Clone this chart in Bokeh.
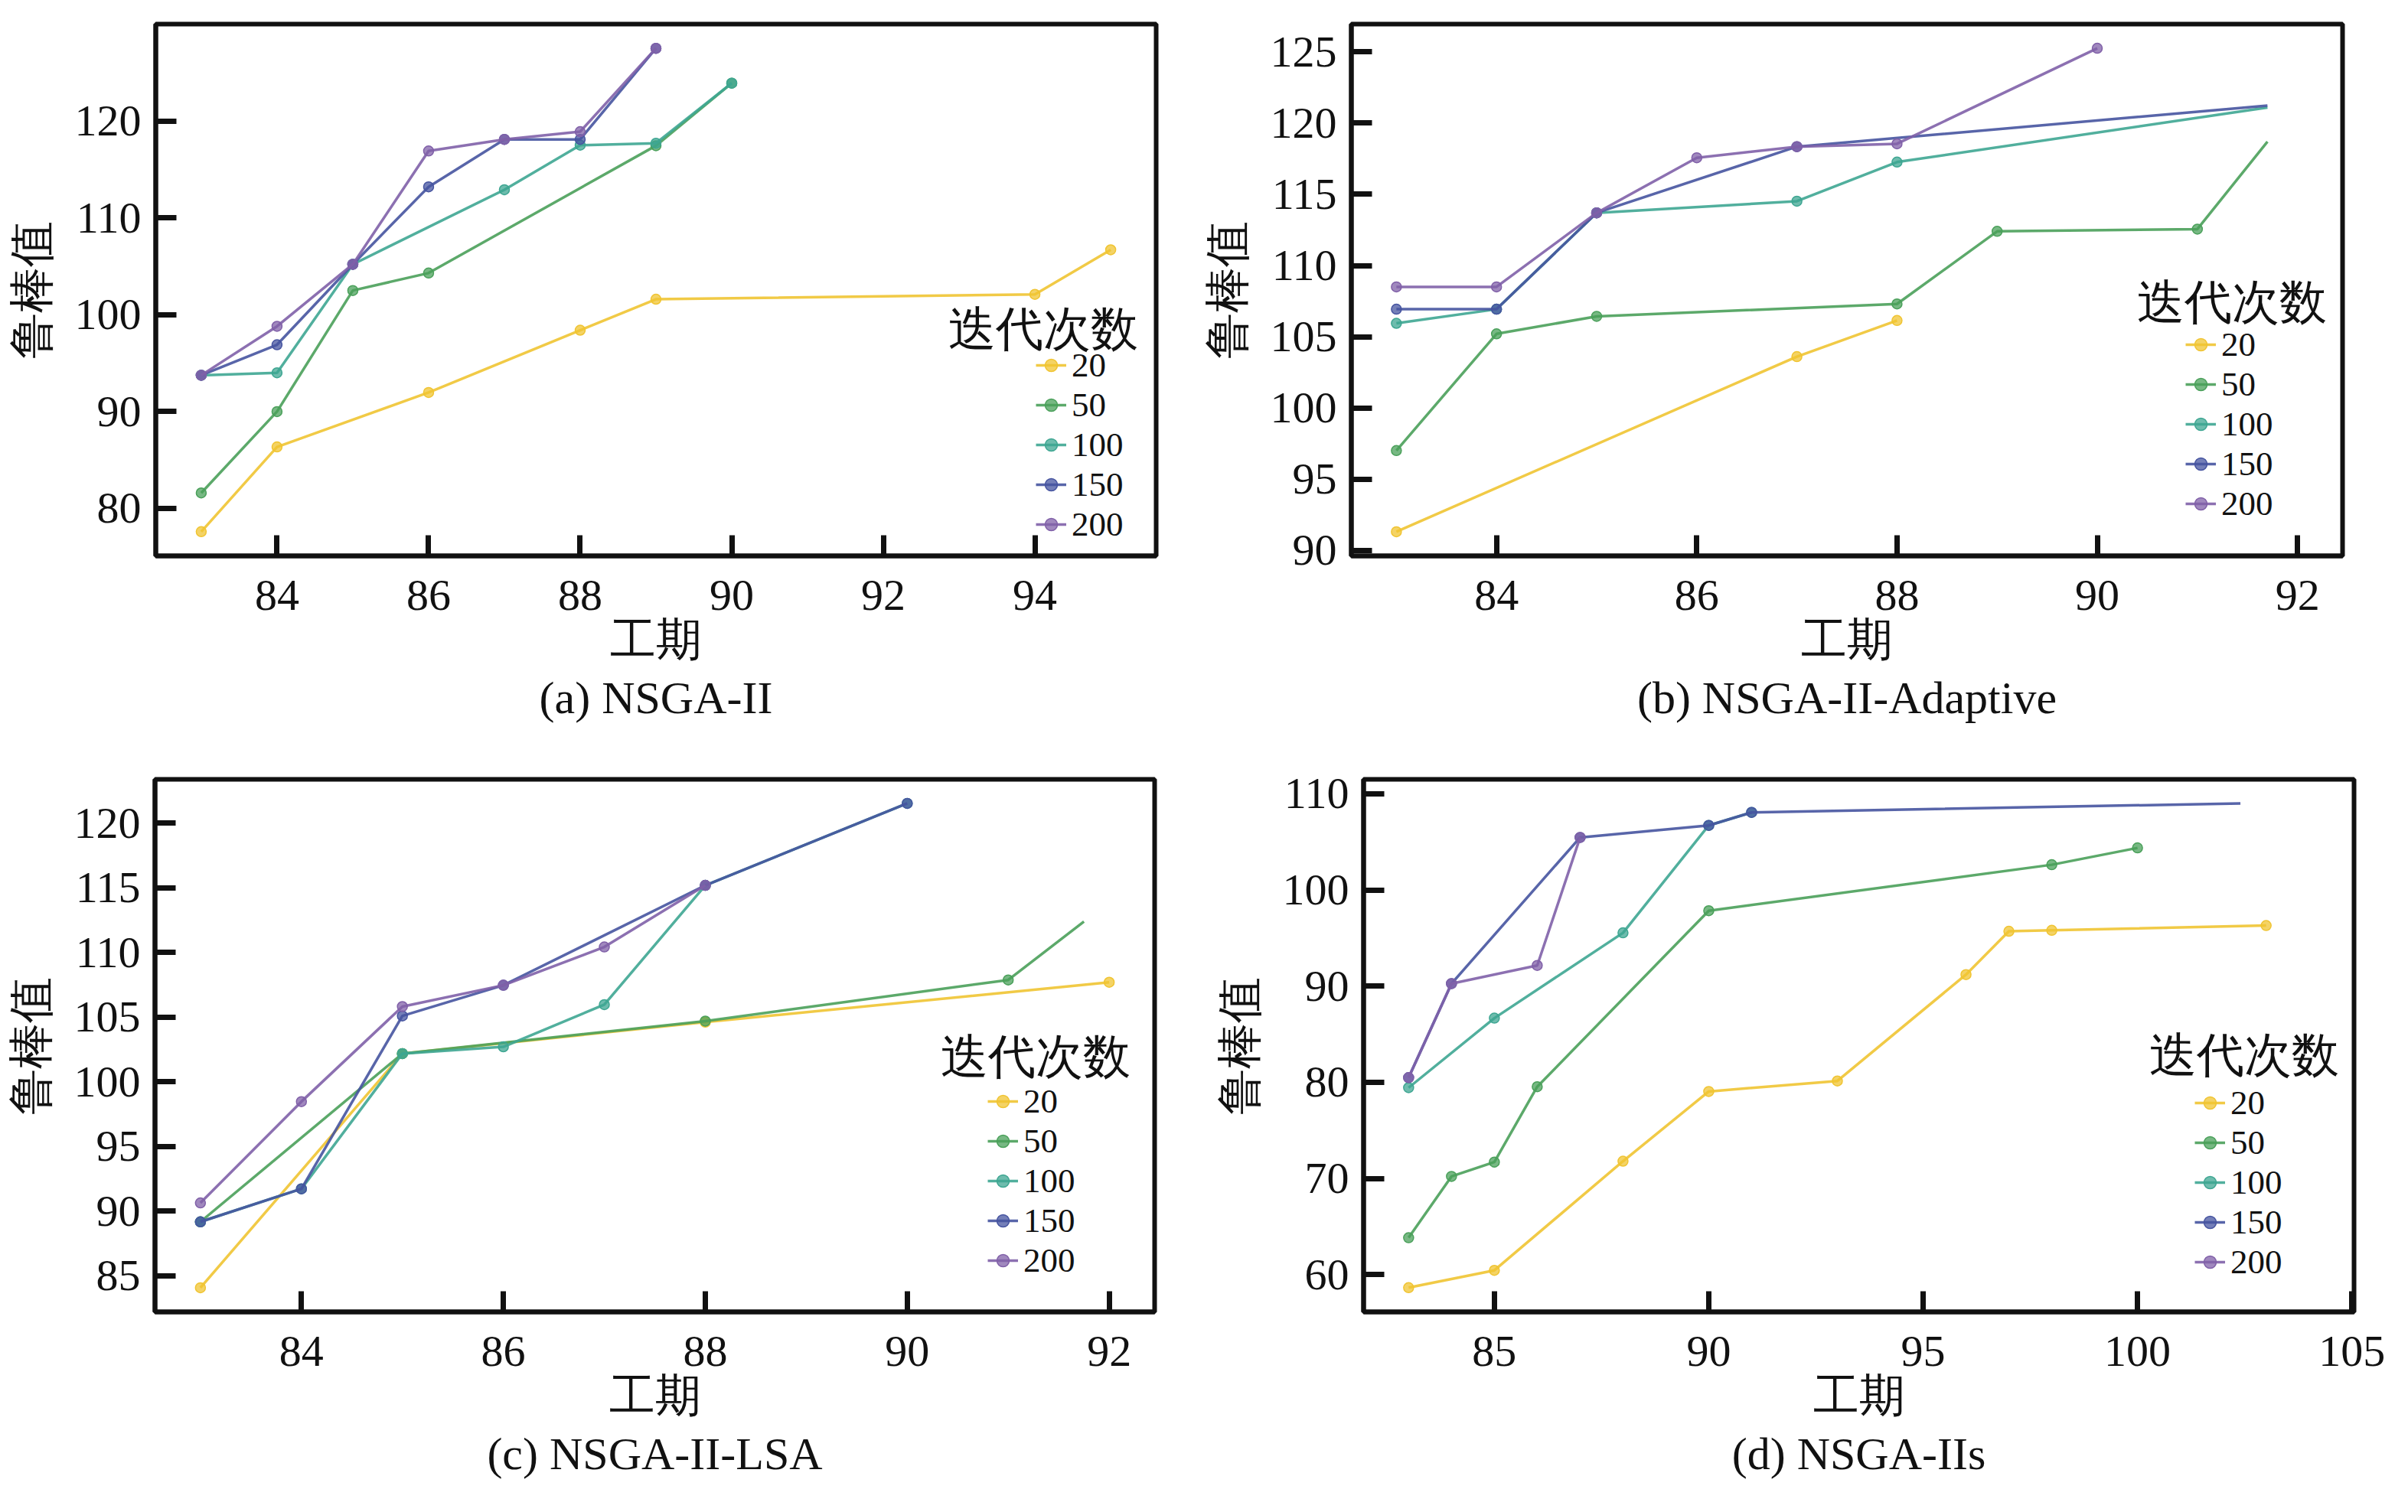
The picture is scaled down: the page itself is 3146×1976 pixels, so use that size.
from bokeh.plotting import figure
from bokeh.models import Range1d, FixedTicker, Legend, LegendItem, Label, Title
from bokeh.layouts import column, row
from bokeh.embed import file_html
from bokeh.resources import INLINE

FONT = "Liberation Serif"
series_names = ["20", "50", "100", "150", "200"]
colors = ["#F0C432", "#4AA05A", "#3EA692", "#4654A0", "#8060A8"]
legend_title = "迭代次数"
x_label = "工期"
y_label = "鲁棒值"

# ---- (a) NSGA-II ----
a20_x = [83, 84, 86, 88, 89, 94, 95]
a20_y = [77.6, 86.35, 91.97, 98.4, 101.6, 102.1, 106.7]
a50_x = [83, 84, 85, 86, 89, 90]
a50_y = [81.6, 90.0, 102.5, 104.3, 117.45, 123.9]
a100_x = [83, 84, 85, 87, 88, 89, 90]
a100_y = [93.75, 94.0, 105.2, 112.9, 117.5, 117.7, 123.9]
a150_x = [83, 84, 85, 86, 87, 88, 89]
a150_y = [93.75, 96.9, 105.2, 113.2, 118.1, 118.1, 127.5]
a200_x = [83, 84, 85, 86, 87, 88, 89]
a200_y = [93.75, 98.8, 105.2, 116.9, 118.1, 118.9, 127.5]

# ---- (b) NSGA-II-Adaptive ----
b20_x = [83, 87, 88]
b20_y = [91.3, 103.6, 106.14]
b50_x = [83, 84, 85, 88, 89, 91]
b50_y = [97.0, 105.2, 106.43, 107.3, 112.4, 112.56]
b50_tail_x = [91.7]
b50_tail_y = [118.7]
b100_x = [83, 84, 85, 87, 88]
b100_y = [105.94, 106.93, 113.7, 114.52, 117.27]
b100_tail_x = [91.7]
b100_tail_y = [121.1]
b150_x = [83, 84, 85, 87]
b150_y = [106.93, 106.93, 113.7, 118.35]
b150_tail_x = [91.7]
b150_tail_y = [121.23]
b200_x = [83, 84, 85, 86, 87, 88, 90]
b200_y = [108.5, 108.5, 113.7, 117.57, 118.35, 118.55, 125.26]

# ---- (c) NSGA-II-LSA ----
c20_x = [83, 85, 88, 92]
c20_y = [84.07, 102.18, 104.62, 107.7]
c50_x = [83, 85, 88, 91]
c50_y = [89.17, 102.18, 104.7, 107.88]
c50_tail_x = [91.75]
c50_tail_y = [112.4]
c100_x = [83, 84, 85, 86, 87, 88, 90]
c100_y = [89.17, 91.72, 102.18, 102.71, 105.97, 115.2, 121.54]
c150_x = [83, 84, 85, 86, 88, 90]
c150_y = [89.17, 91.72, 105.1, 107.47, 115.2, 121.54]
c200_x = [83, 84, 85, 86, 87, 88]
c200_y = [90.63, 98.47, 105.82, 107.47, 110.43, 115.2]

# ---- (d) NSGA-IIs ----
d20_x = [83, 85, 88, 90, 93, 96, 97, 98, 103]
d20_y = [58.65, 60.45, 71.8, 79.05, 80.14, 91.2, 95.7, 95.8, 96.3]
d50_x = [83, 84, 85, 86, 90, 98, 100]
d50_y = [63.84, 70.22, 71.71, 79.54, 97.84, 102.62, 104.37]
d100_x = [83, 85, 88, 90, 91]
d100_y = [79.44, 86.67, 95.54, 106.71, 108.06]
d150_x = [83, 84, 87, 90, 91]
d150_y = [80.49, 90.26, 105.46, 106.71, 108.06]
d150_tail_x = [102.4]
d150_tail_y = [109.0]
d200_x = [83, 84, 86, 87]
d200_y = [80.49, 90.26, 92.15, 105.46]

a_ticks_x = [84, 86, 88, 90, 92, 94]
a_ticks_y = [80, 90, 100, 110, 120]
b_ticks_x = [84, 86, 88, 90, 92]
b_ticks_y = [90, 95, 100, 105, 110, 115, 120, 125]
c_ticks_x = [84, 86, 88, 90, 92]
c_ticks_y = [85, 90, 95, 100, 105, 110, 115, 120]
d_ticks_x = [85, 90, 95, 100, 105]
d_ticks_y = [60, 70, 80, 90, 100, 110]

captions = ["(a) NSGA-II", "(b) NSGA-II-Adaptive", "(c) NSGA-II-LSA", "(d) NSGA-IIs"]

ROW_STEP = 52      # legend row pitch (px)
ITEM_H = 50        # height of one legend item box (px)
LEG_FONT = "45px"


def make_panel(series, xr, yr, xticks, yticks, caption, width, height,
               borders, legend_pos, title_xy):
    left, right, top, bottom = borders
    p = figure(width=width, height=height,
               x_range=Range1d(*xr), y_range=Range1d(*yr),
               output_backend="svg", toolbar_location=None,
               min_border_left=left, min_border_right=right,
               min_border_top=top, min_border_bottom=bottom,
               background_fill_color="white", border_fill_color="white")
    p.xgrid.visible = False
    p.ygrid.visible = False
    p.outline_line_color = "#111111"
    p.outline_line_width = 6
    p.outline_line_alpha = 1.0
    p.xaxis.ticker = FixedTicker(ticks=xticks)
    p.yaxis.ticker = FixedTicker(ticks=yticks)
    for ax in (p.xaxis[0], p.yaxis[0]):
        ax.major_tick_in = 27
        ax.major_tick_out = 0
        ax.major_tick_line_width = 7
        ax.major_tick_line_color = "#111111"
        ax.minor_tick_line_color = None
        ax.axis_line_width = 6
        ax.axis_line_color = "#111111"
        ax.major_label_text_font = FONT
        ax.major_label_text_font_size = "58px"
        ax.major_label_text_color = "#111111"
        ax.axis_label_text_font = FONT
        ax.axis_label_text_font_size = "60px"
        ax.axis_label_text_font_style = "normal"
        ax.axis_label_text_color = "#111111"
    p.xaxis.axis_label = x_label
    p.yaxis.axis_label = y_label
    p.xaxis.major_label_standoff = 32
    p.yaxis.major_label_standoff = 19
    p.xaxis.axis_label_standoff = 3
    p.yaxis.axis_label_standoff = 20

    gx, last_c = legend_pos
    n = len(series_names)
    for i, (name, color, (x, y, tx, ty)) in enumerate(zip(series_names, colors, series)):
        lr = p.line(x + tx, y + ty, line_color=color, line_width=3.5, line_alpha=0.9)
        sr = p.scatter(x, y, size=13, fill_color=color, fill_alpha=0.75,
                       line_color=color, line_width=1.5)
        cy = last_c + (n - 1 - i) * ROW_STEP
        leg = Legend(items=[LegendItem(label=name, renderers=[lr, sr])],
                     location=(gx, cy - ITEM_H // 2), padding=0, margin=0,
                     spacing=0, glyph_width=40, glyph_height=ITEM_H,
                     label_standoff=7, label_height=ITEM_H,
                     background_fill_alpha=0, border_line_color=None,
                     label_text_font=FONT, label_text_font_size=LEG_FONT,
                     label_text_color="#111111")
        p.add_layout(leg)
    p.add_layout(Label(x=title_xy[0], y=title_xy[1], x_units="screen", y_units="screen",
                       text=legend_title, text_baseline="top", text_align="left",
                       text_font=FONT, text_font_size="62px", text_color="#111111"))
    p.add_layout(Title(text=caption, align="center", text_font=FONT,
                       text_font_size="60px", text_font_style="normal",
                       text_color="#111111", standoff=11), "below")
    return p


pa = make_panel(
    [(a20_x, a20_y, [], []), (a50_x, a50_y, [], []), (a100_x, a100_y, [], []),
     (a150_x, a150_y, [], []), (a200_x, a200_y, [], [])],
    (82.4, 95.6), (75.1, 130.0), a_ticks_x, a_ticks_y, captions[0],
    1567, 985, (203, 57, 31, 259), (1150, 40), (1035, 331))
pb = make_panel(
    [(b20_x, b20_y, [], []), (b50_x, b50_y, b50_tail_x, b50_tail_y),
     (b100_x, b100_y, b100_tail_x, b100_tail_y),
     (b150_x, b150_y, b150_tail_x, b150_tail_y), (b200_x, b200_y, [], [])],
    (82.55, 92.45), (89.6, 126.96), b_ticks_x, b_ticks_y, captions[1],
    1573, 985, (195, 80, 31, 259), (1090, 67), (1026, 366))
pc = make_panel(
    [(c20_x, c20_y, [], []), (c50_x, c50_y, c50_tail_x, c50_tail_y),
     (c100_x, c100_y, [], []), (c150_x, c150_y, [], []), (c200_x, c200_y, [], [])],
    (82.55, 92.45), (82.2, 123.4), c_ticks_x, c_ticks_y, captions[2],
    1583, 985, (202, 75, 30, 256), (1088, 66), (1026, 368))
pd = make_panel(
    [(d20_x, d20_y, [], []), (d50_x, d50_y, [], []), (d100_x, d100_y, [], []),
     (d150_x, d150_y, d150_tail_x, d150_tail_y), (d200_x, d200_y, [], [])],
    (81.95, 105.05), (56.13, 111.5), d_ticks_x, d_ticks_y, captions[3],
    1557, 985, (195, 65, 33, 243), (1086, 64), (1026, 370))

layout = column(row(pa, pb), row(pc, pd))
open("out.html", "w").write(file_html(layout, INLINE))
